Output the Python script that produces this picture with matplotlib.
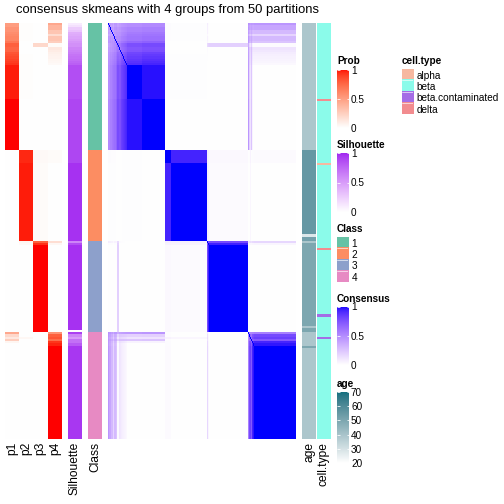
import numpy as np
import matplotlib
matplotlib.use("Agg")
import matplotlib.pyplot as plt
import matplotlib.colors as mcolors
from matplotlib.colors import ListedColormap

plt.rcParams['font.family'] = ['Liberation Sans', 'DejaVu Sans']

# ---- data (rows ordered top to bottom) ----
class_sizes = [57, 41, 41, 48]
class_labels = ["1", "2", "3", "4"]
class_colors = ["#66C2A5", "#FC8D62", "#8DA0CB", "#E78AC3"]

# membership probabilities per class block
p1 = ([0.50, 0.50, 0.55, 0.55, 0.58, 0.60, 0.62, 0.62, 0.68, 0.78, 0.78,
       0.75, 0.76, 0.82, 0.84, 0.86, 0.88, 0.90, 0.92] + [0.97] * 15 + [1.0] * 23
      + [0.0] * 41
      + [0.0] * 41
      + [0.45, 0.20, 0.12, 0.25, 0.05] + [0.0] * 43)
p2 = ([0.01] * 8 + [0.0] * 6 + [0.01] * 20 + [0.0] * 23
      + [0.95] * 6 + [0.97] * 35
      + [0.05, 0.03] + [0.0] * 39
      + [0.0, 0.0, 0.04] + [0.0] * 45)
p3 = ([0.0] * 9 + [0.20, 0.20] + [0.0] * 46
      + [0.03] * 6 + [0.02] * 35
      + [0.78, 0.93] + [1.0] * 39
      + [0.0] * 48)
p4 = ([0.45, 0.38, 0.38, 0.30, 0.30, 0.18, 0.30, 0.30, 0.25, 0.02, 0.02,
       0.12, 0.10, 0.08, 0.07, 0.06, 0.05, 0.04, 0.03] + [0.0] * 38
      + [0.02] * 6 + [0.0] * 35
      + [0.17, 0.04] + [0.0] * 39
      + [0.55, 0.78, 0.82, 0.72, 0.92, 0.96] + [1.0] * 42)

# sub-groups whose samples always fall together (0 = none)
tight_group = ([0] * 19 + [1] * 15 + [2] * 23
               + [3] * 6 + [4] * 35
               + [0] * 2 + [5] * 39
               + [0] * 6 + [6] * 42)

silhouette = ([0.10, 0.15, 0.25, 0.30, 0.40, 0.42, 0.45, 0.48, 0.52, 0.55, 0.55,
               0.60, 0.62, 0.65, 0.68, 0.70, 0.72, 0.75, 0.78] + [0.85] * 15 + [0.88] * 23
              + [0.88] * 6 + [0.95] * 35
              + [0.60, 0.85] + [0.95] * 38 + [0.0]
              + [0.90, 0.60, 0.50, 0.70, 0.70, 0.80] + [0.93] * 42)

age = ([39] * 57
       + [55] * 38 + [28] + [52, 52]
       + [39] + [50] * 37 + [39] + [50, 50]
       + [39] * 6 + [50] + [39] * 41)

cell_types = ["alpha", "beta", "beta.contaminated", "delta"]
cell_type_colors = ["#F6B8A0", "#8BFBEA", "#A46DE6", "#F28C8F"]
other_rows = [34, 63, 101, 131, 141]
other_types = ["delta", "alpha", "delta", "beta.contaminated", "beta.contaminated"]


# ---- colour ramps interpolated in LAB like colorRamp2 ----
def to_lab(hexcol):
    c = np.array(mcolors.to_rgb(hexcol))
    lin = np.where(c <= 0.04045, c / 12.92, ((c + 0.055) / 1.055) ** 2.4)
    m = np.array([[0.4124, 0.3576, 0.1805],
                  [0.2126, 0.7152, 0.0722],
                  [0.0193, 0.1192, 0.9505]])
    xyz = m @ lin / np.array([0.95047, 1.0, 1.08883])
    f = np.where(xyz > 0.008856, np.cbrt(xyz), 7.787 * xyz + 16 / 116)
    return np.array([116 * f[1] - 16, 500 * (f[0] - f[1]), 200 * (f[1] - f[2])])


def from_lab(lab):
    fy = (lab[:, 0] + 16) / 116
    fx = fy + lab[:, 1] / 500
    fz = fy - lab[:, 2] / 200
    f = np.stack([fx, fy, fz], axis=1)
    xyz = np.where(f > 0.206893, f ** 3, (f - 16 / 116) / 7.787) * np.array([0.95047, 1.0, 1.08883])
    minv = np.array([[3.2406, -1.5372, -0.4986],
                     [-0.9689, 1.8758, 0.0415],
                     [0.0557, -0.2040, 1.0570]])
    lin = np.clip(xyz @ minv.T, 0, 1)
    rgb = np.where(lin <= 0.0031308, 12.92 * lin, 1.055 * lin ** (1 / 2.4) - 0.055)
    return np.clip(rgb, 0, 1)


def lab_cmap(c0, c1):
    t = np.linspace(0, 1, 256)[:, None]
    lab = (1 - t) * to_lab(c0) + t * to_lab(c1)
    return ListedColormap(from_lab(lab))


prob_cmap = lab_cmap("white", "red")
sil_cmap = lab_cmap("white", "#A020F0")
cons_cmap = lab_cmap("white", "blue")
age_cmap = lab_cmap("white", "#137080")

# ---- derived matrices ----
P = np.column_stack([p1, p2, p3, p4])
n = P.shape[0]
cls = np.repeat(np.arange(4), class_sizes)
consensus = P @ P.T
tg = np.array(tight_group)
same = (tg[:, None] == tg[None, :]) & (tg[:, None] > 0)
consensus[same] = 1.0
np.fill_diagonal(consensus, 1.0)
consensus = np.clip(consensus, 0, 1)

ct_idx = np.full(n, cell_types.index("beta"))
for r, t in zip(other_rows, other_types):
    ct_idx[r] = cell_types.index(t)

# ---- figure ----
W = H = 504.0
fig = plt.figure(figsize=(7, 7), dpi=72)


def px_axes(x0, x1, y0, y1):
    ax = fig.add_axes([x0 / W, 1 - y1 / H, (x1 - x0) / W, (y1 - y0) / H])
    return ax


TOP, BOT = 23, 439


def body(x0, x1, data, cmap, vmin=None, vmax=None):
    ax = px_axes(x0, x1, TOP, BOT)
    ax.imshow(data, cmap=cmap, vmin=vmin, vmax=vmax, aspect='auto', interpolation='nearest')
    ax.axis('off')
    return ax


body(5, 62, P, prob_cmap, 0, 1)
body(68, 82, np.array(silhouette)[:, None], sil_cmap, 0, 1)
body(88, 102, cls[:, None], ListedColormap(class_colors), -0.5, 3.5)
body(108, 296, consensus, cons_cmap, 0, 1)
body(302, 316, np.array(age)[:, None], age_cmap, 20, 70)
body(317, 331, ct_idx[:, None], ListedColormap(cell_type_colors), -0.5, 3.5)

col_labels = [("p1", 12.5), ("p2", 26.5), ("p3", 40.5), ("p4", 55), ("Silhouette", 75),
              ("Class", 95), ("age", 309), ("cell.type", 324)]
for lab, xc in col_labels:
    fig.text(xc / W, 1 - 442 / H, lab, rotation=90, ha='center', va='top', fontsize=12)

fig.text(168 / W, 1 - 10 / H, "consensus skmeans with 4 groups from 50 partitions",
         ha='center', va='center', fontsize=13)


# ---- legends ----
def color_bar(y0, y1, cmap, vmin, vmax, ticks, labels, title):
    ax = px_axes(337, 349, y0, y1)
    grad = np.linspace(vmin, vmax, 200)[:, None]
    ax.imshow(grad, cmap=cmap, vmin=vmin, vmax=vmax, aspect='auto', origin='lower',
              extent=[0, 1, vmin, vmax])
    ax.set_xticks([])
    ax.set_yticks(ticks)
    ax.set_yticklabels(labels, fontsize=10)
    ax.yaxis.tick_right()
    ax.tick_params(axis='y', direction='in', length=2.5, width=0.8, color='white',
                   left=True, right=True, labelleft=False, labelright=True, pad=2)
    for s in ax.spines.values():
        s.set_visible(False)
    fig.text(337 / W, 1 - (y0 - 8) / H, title, fontweight='bold', fontsize=10, va='center', ha='left')


def box_legend(x0, y0, colors, labels, title):
    k = len(colors)
    ax = px_axes(x0, x0 + 11.3, y0, y0 + 11.3 * k)
    ax.imshow(np.arange(k)[:, None], cmap=ListedColormap(colors), vmin=-0.5, vmax=k - 0.5,
              aspect='auto', interpolation='nearest')
    for i in range(1, k):
        ax.axhline(i - 0.5, color='white', lw=0.6)
    ax.set_xticks([])
    ax.set_yticks(range(k))
    ax.set_yticklabels(labels, fontsize=10)
    ax.yaxis.tick_right()
    ax.tick_params(axis='y', length=0, pad=3)
    for s in ax.spines.values():
        s.set_visible(False)
    fig.text(x0 / W, 1 - (y0 - 8) / H, title, fontweight='bold', fontsize=10, va='center', ha='left')


color_bar(69.5, 128, prob_cmap, 0, 1, [0, 0.5, 1], ["0", "0.5", "1"], "Prob")
color_bar(153, 212, sil_cmap, 0, 1, [0, 0.5, 1], ["0", "0.5", "1"], "Silhouette")
box_legend(337, 237, class_colors, class_labels, "Class")
color_bar(306.5, 365, cons_cmap, 0, 1, [0, 0.5, 1], ["0", "0.5", "1"], "Consensus")
color_bar(392, 463, age_cmap, 20, 70, [20, 30, 40, 50, 60, 70],
          ["20", "30", "40", "50", "60", "70"], "age")
box_legend(402, 69, cell_type_colors, cell_types, "cell.type")

fig.savefig("out.png", dpi=72)
